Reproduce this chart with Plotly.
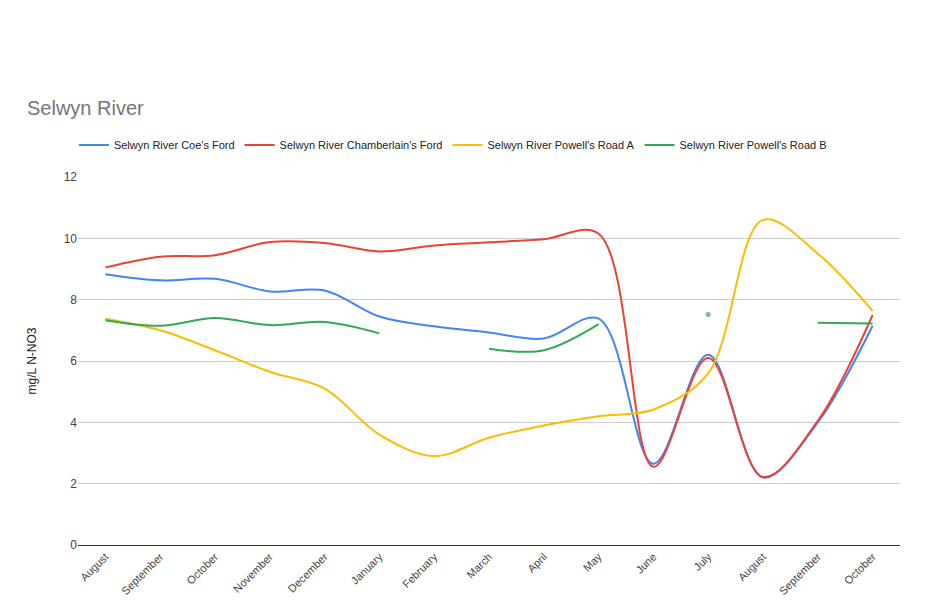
import plotly.graph_objects as go

months = ["August", "September", "October", "November", "December", "January", "February",
          "March", "April", "May", "June", "July", "August", "September", "October"]
x_idx = list(range(len(months)))

coes_ford = [8.83, 8.63, 8.68, 8.27, 8.30, 7.45, 7.13, 6.93, 6.73, 7.38, 2.65, 6.20, 2.20, 4.00, 7.15]
chamberlains_ford = [9.05, 9.40, 9.45, 9.88, 9.85, 9.57, 9.77, 9.87, 9.97, 10.15, 2.55, 6.10, 2.22, 4.05, 7.50]
powells_a = [7.38, 7.00, 6.35, 5.65, 5.10, 3.60, 2.90, 3.50, 3.90, 4.20, 4.42, 5.60, 10.6, 9.50, 7.63]
powells_b = [7.33, 7.15, 7.40, 7.17, 7.27, 6.90, None, 6.40, 6.35, 7.20, None, 7.52, None, 7.25, 7.22]

series = [
    ("Selwyn River Coe's Ford", coes_ford, "#4285F4"),
    ("Selwyn River Chamberlain's Ford", chamberlains_ford, "#EA4335"),
    ("Selwyn River Powell's Road A", powells_a, "#FBBC04"),
    ("Selwyn River Powell's Road B", powells_b, "#34A853"),
]

fig = go.Figure()
for name, vals, color in series:
    # show a marker only for isolated points (no neighbours)
    sizes = []
    for i, v in enumerate(vals):
        prev_ok = i > 0 and vals[i - 1] is not None
        next_ok = i < len(vals) - 1 and vals[i + 1] is not None
        sizes.append(5 if (v is not None and not prev_ok and not next_ok) else 0)
    fig.add_trace(go.Scatter(
        x=x_idx, y=vals, name=name, mode="lines+markers",
        line=dict(color=color, width=2, shape="spline", smoothing=1.0),
        marker=dict(size=sizes, color=color, line=dict(width=0)),
        connectgaps=False,
    ))

W, H = 927, 592
font_family = "Arial, Liberation Sans, sans-serif"
fig.update_layout(
    width=W, height=H,
    paper_bgcolor="white", plot_bgcolor="white",
    margin=dict(l=70, r=35, t=169, b=55, autoexpand=False),
    font=dict(family=font_family, size=12, color="#444444"),
    title=dict(text="Selwyn River", x=19 / W, xref="container", xanchor="left",
               y=1 - 100 / H, yref="container", yanchor="middle",
               font=dict(size=20, color="#757575", family=font_family)),
    legend=dict(orientation="h", x=-0.005, xanchor="left", y=1.087, yanchor="middle",
                font=dict(size=11, color="#222222"), itemwidth=30, traceorder="normal"),
    showlegend=True,
)
fig.update_xaxes(
    tickmode="array", tickvals=x_idx, ticktext=months, tickangle=-45,
    range=[-0.5, len(months) - 0.5], showgrid=False, showline=True,
    linecolor="#333333", linewidth=1, ticks="", automargin=False,
    tickfont=dict(size=11, color="#444444"), zeroline=False,
)
fig.update_yaxes(
    range=[0, 12], dtick=2, showgrid=True, gridcolor="#CCCCCC", gridwidth=1,
    zeroline=False, showline=False, ticks="", automargin=False,
    title=dict(text="mg/L N-NO3", font=dict(size=12, color="#222222"), standoff=24),
    tickfont=dict(size=12, color="#444444"),
)

fig.write_html("out.html")
